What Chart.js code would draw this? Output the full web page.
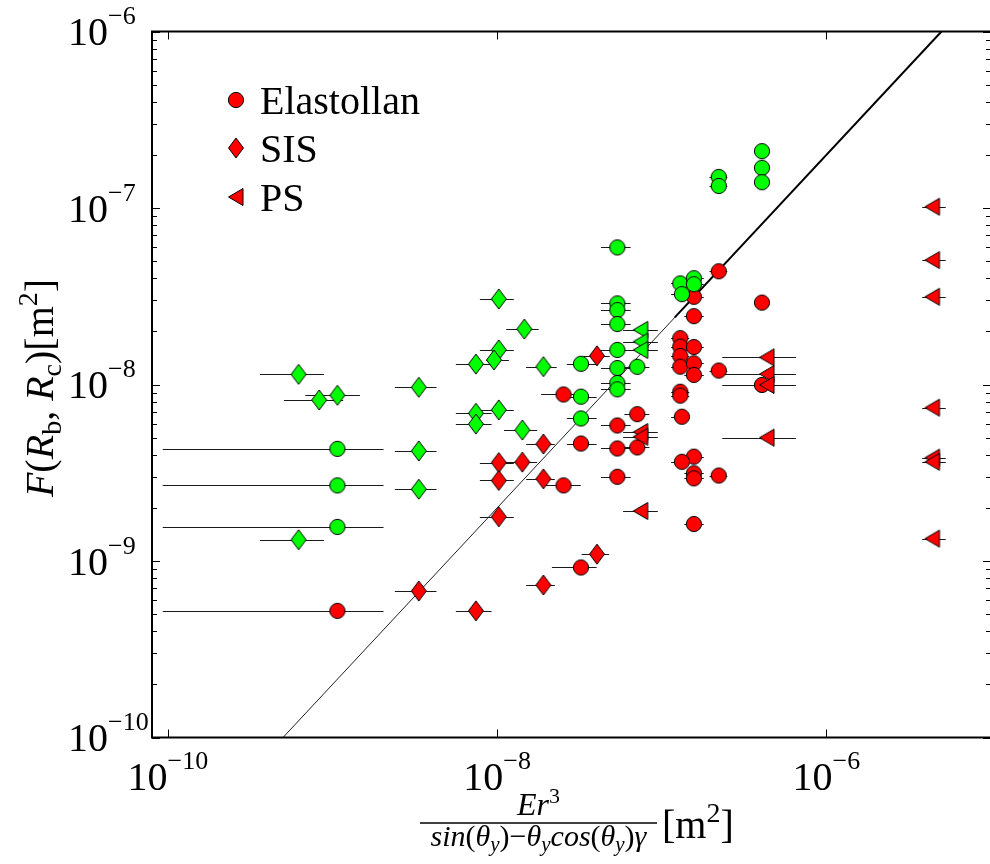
<!DOCTYPE html>
<html>
<head>
<meta charset="utf-8">
<script src="https://cdn.jsdelivr.net/npm/chart.js@4/dist/chart.umd.min.js"></script>
<style>
  html, body { margin: 0; padding: 0; background: #fff; overflow: hidden; }
  canvas { display: block; }
</style>
</head>
<body>
<canvas id="c" width="1000" height="864"></canvas>
<script>
// Each point: [x, y, xLow, xHigh]  (horizontal error bar from xLow to xHigh)
const elastollanRed = [
  [1.07e-9, 5.22e-10, 9.3e-11, 2.04e-9],
  [2.53e-8, 8.78e-9, 1.85e-8, 3.0e-8],
  [2.53e-8, 2.68e-9, 1.9e-8, 3.22e-8],
  [3.23e-8, 4.63e-9, 2.65e-8, 4.02e-8],
  [3.23e-8, 9.19e-10, 2.15e-8, 4.02e-8],
  [5.37e-8, 5.86e-9, 4.27e-8, 6.47e-8],
  [5.37e-8, 4.34e-9, 4.27e-8, 6.47e-8],
  [5.37e-8, 3.00e-9, 4.27e-8, 6.47e-8],
  [7.10e-8, 6.79e-9, 5.93e-8, 8.41e-8],
  [7.10e-8, 4.40e-9, 5.93e-8, 8.41e-8],
  [1.295e-7, 1.83e-8, 1.14e-7, 1.47e-7],
  [1.295e-7, 1.64e-8, 1.14e-7, 1.47e-7],
  [1.295e-7, 1.45e-8, 1.14e-7, 1.47e-7],
  [1.295e-7, 1.262e-8, 1.14e-7, 1.47e-7],
  [1.567e-7, 1.63e-8, 1.37e-7, 1.80e-7],
  [1.567e-7, 1.318e-8, 1.37e-7, 1.80e-7],
  [1.567e-7, 1.133e-8, 1.37e-7, 1.80e-7],
  [1.567e-7, 3.14e-8, 1.37e-7, 1.80e-7],
  [1.567e-7, 2.44e-8, 1.37e-7, 1.80e-7],
  [2.22e-7, 4.38e-8, 1.95e-7, 2.50e-7],
  [4.06e-7, 2.91e-8, 4.06e-7, 4.06e-7],
  [2.22e-7, 1.20e-8, 1.95e-7, 2.50e-7],
  [4.06e-7, 9.94e-9, 4.06e-7, 4.06e-7],
  [1.295e-7, 9.10e-9, 1.14e-7, 1.47e-7],
  [1.295e-7, 8.65e-9, 1.14e-7, 1.47e-7],
  [1.325e-7, 6.57e-9, 1.14e-7, 1.47e-7],
  [1.567e-7, 3.90e-9, 1.37e-7, 1.80e-7],
  [1.325e-7, 3.65e-9, 1.14e-7, 1.47e-7],
  [1.567e-7, 3.14e-9, 1.37e-7, 1.80e-7],
  [1.567e-7, 2.94e-9, 1.37e-7, 1.80e-7],
  [2.22e-7, 3.05e-9, 1.95e-7, 2.50e-7],
  [1.567e-7, 1.62e-9, 1.37e-7, 1.80e-7]
];

const elastollanGreen = [
  [1.07e-9, 4.32e-9, 9.3e-11, 2.04e-9],
  [1.07e-9, 2.68e-9, 9.3e-11, 2.04e-9],
  [1.07e-9, 1.56e-9, 9.3e-11, 2.04e-9],
  [5.37e-8, 5.98e-8, 4.27e-8, 6.47e-8],
  [5.37e-8, 2.88e-8, 4.27e-8, 6.47e-8],
  [5.37e-8, 2.64e-8, 4.27e-8, 6.47e-8],
  [5.37e-8, 2.20e-8, 4.27e-8, 6.47e-8],
  [5.37e-8, 1.57e-8, 4.27e-8, 6.47e-8],
  [5.37e-8, 1.24e-8, 4.27e-8, 6.47e-8],
  [5.37e-8, 1.02e-8, 4.27e-8, 6.47e-8],
  [5.37e-8, 9.39e-9, 4.27e-8, 6.47e-8],
  [3.23e-8, 1.31e-8, 2.65e-8, 4.02e-8],
  [3.23e-8, 8.53e-9, 2.65e-8, 4.02e-8],
  [3.23e-8, 6.42e-9, 2.65e-8, 4.02e-8],
  [7.10e-8, 1.26e-8, 5.93e-8, 8.41e-8],
  [1.295e-7, 3.74e-8, 1.14e-7, 1.47e-7],
  [1.325e-7, 3.25e-8, 1.14e-7, 1.47e-7],
  [1.567e-7, 4.00e-8, 1.37e-7, 1.80e-7],
  [1.567e-7, 3.70e-8, 1.37e-7, 1.80e-7],
  [2.22e-7, 1.50e-7, 1.95e-7, 2.50e-7],
  [2.22e-7, 1.333e-7, 1.95e-7, 2.50e-7],
  [4.06e-7, 2.10e-7, 4.06e-7, 4.06e-7],
  [4.06e-7, 1.69e-7, 4.06e-7, 4.06e-7],
  [4.06e-7, 1.40e-7, 4.06e-7, 4.06e-7]
];

const sisRed = [
  [3.34e-9, 6.76e-10, 2.39e-9, 4.28e-9],
  [7.43e-9, 5.22e-10, 5.61e-9, 9.25e-9],
  [1.023e-8, 1.78e-9, 7.85e-9, 1.262e-8],
  [1.023e-8, 3.61e-9, 7.85e-9, 1.262e-8],
  [1.023e-8, 2.86e-9, 7.85e-9, 1.262e-8],
  [1.422e-8, 3.63e-9, 1.10e-8, 1.75e-8],
  [1.909e-8, 4.60e-9, 1.50e-8, 2.24e-8],
  [1.909e-8, 2.92e-9, 1.50e-8, 2.24e-8],
  [1.909e-8, 7.31e-10, 1.50e-8, 2.24e-8],
  [4.04e-8, 1.455e-8, 3.34e-8, 4.83e-8],
  [4.04e-8, 1.093e-9, 3.26e-8, 4.79e-8]
];

const sisGreen = [
  [6.22e-10, 1.142e-8, 3.62e-10, 8.85e-10],
  [8.30e-10, 8.17e-9, 5.06e-10, 1.16e-9],
  [1.07e-9, 8.69e-9, 6.84e-10, 1.466e-9],
  [6.22e-10, 1.32e-9, 3.62e-10, 8.85e-10],
  [3.34e-9, 9.64e-9, 2.39e-9, 4.28e-9],
  [3.34e-9, 4.20e-9, 2.39e-9, 4.28e-9],
  [3.34e-9, 2.55e-9, 2.39e-9, 4.28e-9],
  [1.023e-8, 3.05e-8, 7.85e-9, 1.262e-8],
  [1.462e-8, 2.06e-8, 1.135e-8, 1.786e-8],
  [1.023e-8, 1.57e-8, 7.85e-9, 1.262e-8],
  [9.57e-9, 1.377e-8, 8.59e-9, 1.178e-8],
  [7.43e-9, 1.305e-8, 5.61e-9, 9.25e-9],
  [1.909e-8, 1.262e-8, 1.497e-8, 2.30e-8],
  [7.43e-9, 6.87e-9, 5.61e-9, 9.25e-9],
  [7.43e-9, 5.97e-9, 5.61e-9, 9.25e-9],
  [1.023e-8, 7.18e-9, 7.85e-9, 1.262e-8],
  [1.422e-8, 5.52e-9, 1.10e-8, 1.75e-8]
];

const psRed = [
  [7.45e-8, 5.38e-9, 5.82e-8, 9.46e-8],
  [7.45e-8, 5.06e-9, 5.82e-8, 9.46e-8],
  [7.45e-8, 1.92e-9, 5.82e-8, 9.46e-8],
  [4.36e-7, 1.425e-8, 2.33e-7, 6.52e-7],
  [4.36e-7, 1.146e-8, 2.33e-7, 6.52e-7],
  [4.36e-7, 9.94e-9, 2.33e-7, 6.52e-7],
  [4.36e-7, 5.00e-9, 2.33e-7, 6.52e-7],
  [4.41e-6, 1.017e-7, 3.82e-6, 5.31e-6],
  [4.41e-6, 5.07e-8, 3.82e-6, 5.31e-6],
  [4.41e-6, 3.14e-8, 3.82e-6, 5.31e-6],
  [4.41e-6, 7.39e-9, 3.82e-6, 5.31e-6],
  [4.41e-6, 3.85e-9, 3.82e-6, 5.31e-6],
  [4.41e-6, 3.65e-9, 3.82e-6, 5.31e-6],
  [4.41e-6, 1.34e-9, 3.82e-6, 5.31e-6]
];

const psGreen = [
  [7.45e-8, 2.04e-8, 5.82e-8, 9.46e-8],
  [7.45e-8, 1.75e-8, 5.82e-8, 9.46e-8],
  [7.45e-8, 1.57e-8, 5.82e-8, 9.46e-8]
];

// Reference line F = x / 5 (end points), and its heavier upper stretch
const fitLineX = [5e-10, 5e-6];
const fitLineY = [1e-10, 1e-6];
const fitHeavyX = [1.2e-7, 5e-6];
const fitHeavyY = [2.4e-8, 1e-6];

const xTickValues = [1e-10, 1e-8, 1e-6];
const xTickExponents = ['10', '8', '6'];
const yTickValues = [1e-6, 1e-7, 1e-8, 1e-9, 1e-10];
const yTickExponents = ['6', '7', '8', '9', '10'];
const legendLabels = ['Elastollan', 'SIS', 'PS'];

const RED = '#ff0000';
const GREEN = '#00ff00';
const SERIF = "'Liberation Serif'";

function makeMarker(shape, fill) {
  const c = document.createElement('canvas');
  const g = c.getContext('2d');
  if (shape === 'diamond') {
    c.width = 18; c.height = 24;
    g.beginPath();
    g.moveTo(9, 2); g.lineTo(16.5, 12); g.lineTo(9, 22); g.lineTo(1.5, 12);
  } else if (shape === 'triangle') {
    c.width = 18; c.height = 20;
    g.beginPath();
    g.moveTo(1.5, 10); g.lineTo(16, 1.5); g.lineTo(16, 18.5);
  } else {
    c.width = 18; c.height = 18;
    g.beginPath();
    g.arc(9, 9, 7.6, 0, Math.PI * 2);
  }
  g.closePath();
  g.fillStyle = fill; g.fill();
  g.lineWidth = 1; g.strokeStyle = '#000'; g.stroke();
  return c;
}

const markers = {
  circleRed: makeMarker('circle', RED),
  circleGreen: makeMarker('circle', GREEN),
  diamondRed: makeMarker('diamond', RED),
  diamondGreen: makeMarker('diamond', GREEN),
  triangleRed: makeMarker('triangle', RED),
  triangleGreen: makeMarker('triangle', GREEN)
};

function toPoints(rows) {
  return rows.map(r => ({ x: r[0], y: r[1], lo: r[2], hi: r[3] }));
}
function toLine(xs, ys) {
  return xs.map((x, i) => ({ x: x, y: ys[i] }));
}

function scatterSet(label, rows, marker, order) {
  return {
    label: label, data: toPoints(rows), errorBars: true,
    pointStyle: marker, pointRadius: 8, pointHoverRadius: 8, order: order
  };
}

function fontOf(size, italic) {
  return (italic ? 'italic ' : '') + size + 'px ' + SERIF;
}
// Draws a run of text pieces (with sub/superscripts) from one anchor
function drawRuns(ctx, runs, x, y, align) {
  let total = 0;
  runs.forEach(r => {
    ctx.font = fontOf(r.size, r.italic);
    r.w = ctx.measureText(r.text).width + (r.gap || 0);
    total += r.w;
  });
  let cx = align === 'center' ? x - total / 2 : align === 'right' ? x - total : x;
  runs.forEach(r => {
    ctx.font = fontOf(r.size, r.italic);
    ctx.fillText(r.text, cx, y + (r.dy || 0));
    cx += r.w;
  });
  return total;
}
function powerRuns(exp) {
  return [{ text: '10', size: 40 }, { text: '\u2212' + exp, size: 26, dy: -21 }];
}

const errorBarPlugin = {
  id: 'errorBars',
  beforeDatasetsDraw(chart) {
    const ctx = chart.ctx, xs = chart.scales.x, area = chart.chartArea;
    ctx.save();
    ctx.beginPath();
    ctx.rect(area.left, area.top, area.right - area.left, area.bottom - area.top);
    ctx.clip();
    ctx.strokeStyle = '#1a1a1a';
    ctx.lineWidth = 1;
    chart.data.datasets.forEach((ds, di) => {
      if (!ds.errorBars) return;
      const meta = chart.getDatasetMeta(di);
      ds.data.forEach((p, i) => {
        const y = Math.round(meta.data[i].y) + 0.5;
        const x0 = xs.getPixelForValue(p.lo), x1 = xs.getPixelForValue(p.hi);
        if (x1 - x0 < 1) return;
        ctx.beginPath();
        ctx.moveTo(x0, y); ctx.lineTo(x1, y);
        ctx.stroke();
      });
    });
    ctx.restore();
  }
};

const framePlugin = {
  id: 'frame',
  afterDraw(chart) {
    const ctx = chart.ctx, xs = chart.scales.x, ys = chart.scales.y, a = chart.chartArea;
    ctx.save();
    ctx.strokeStyle = '#000';
    ctx.fillStyle = '#000';
    // axes box
    ctx.lineWidth = 2;
    ctx.strokeRect(a.left, a.top, a.right - a.left, a.bottom - a.top);
    // y ticks (major each decade, minor 2..9)
    ctx.lineWidth = 1;
    for (let e = -10; e <= -6; e++) {
      for (let m = 1; m <= 9; m++) {
        const v = m * Math.pow(10, e);
        if (v > 1.0001e-6) continue;
        const y = Math.round(ys.getPixelForValue(v)) + 0.5;
        const len = m === 1 ? 8 : 5;
        ctx.beginPath();
        ctx.moveTo(a.left, y); ctx.lineTo(a.left + len, y);
        ctx.moveTo(a.right, y); ctx.lineTo(a.right - len, y);
        ctx.stroke();
      }
    }
    // x ticks (every second decade)
    xTickValues.forEach(v => {
      const x = Math.round(xs.getPixelForValue(v)) + 0.5;
      ctx.beginPath();
      ctx.moveTo(x, a.bottom); ctx.lineTo(x, a.bottom - 8);
      ctx.moveTo(x, a.top); ctx.lineTo(x, a.top + 8);
      ctx.stroke();
    });
    // tick labels
    ctx.textBaseline = 'alphabetic';
    yTickValues.forEach((v, i) => {
      const y = ys.getPixelForValue(v);
      drawRuns(ctx, powerRuns(yTickExponents[i]), 68, y + 13.5, 'left');
    });
    xTickValues.forEach((v, i) => {
      const x = xs.getPixelForValue(v);
      drawRuns(ctx, powerRuns(xTickExponents[i]), x, 790, 'center');
    });

    // y axis title
    ctx.save();
    ctx.translate(53, 388);
    ctx.rotate(-Math.PI / 2);
    drawRuns(ctx, [
      { text: 'F', size: 40, italic: true },
      { text: '(', size: 40 },
      { text: 'R', size: 40, italic: true },
      { text: 'b', size: 28, dy: 8 },
      { text: ', ', size: 40 },
      { text: 'R', size: 40, italic: true },
      { text: 'c', size: 28, dy: 8 },
      { text: ')', size: 40 },
      { text: '[m', size: 40 },
      { text: '2', size: 28, dy: -16 },
      { text: ']', size: 40 }
    ], 0, 0, 'center');
    ctx.restore();

    // x axis title: fraction plus unit
    const fx0 = 420, fx1 = 657, fc = (fx0 + fx1) / 2;
    drawRuns(ctx, [
      { text: 'E', size: 32, italic: true },
      { text: 'r', size: 32, italic: true },
      { text: '3', size: 22, dy: -12 }
    ], fc, 815, 'center');
    ctx.lineWidth = 1.5;
    ctx.beginPath(); ctx.moveTo(fx0, 823); ctx.lineTo(fx1, 823); ctx.stroke();
    drawRuns(ctx, [
      { text: 'sin', size: 30, italic: true },
      { text: '(', size: 30 },
      { text: '\u03b8', size: 30, italic: true },
      { text: 'y', size: 21, italic: true, dy: 5 },
      { text: ')\u2212', size: 30 },
      { text: '\u03b8', size: 30, italic: true },
      { text: 'y', size: 21, italic: true, dy: 5 },
      { text: 'cos', size: 30, italic: true },
      { text: '(', size: 30 },
      { text: '\u03b8', size: 30, italic: true },
      { text: 'y', size: 21, italic: true, dy: 5 },
      { text: ')', size: 30 },
      { text: '\u03b3', size: 30, italic: true }
    ], fc, 846, 'center');
    drawRuns(ctx, [
      { text: '[m', size: 40 },
      { text: '2', size: 28, dy: -16 },
      { text: ']', size: 40 }
    ], 662, 838, 'left');

    // legend
    const legendMarkers = [markers.circleRed, markers.diamondRed, markers.triangleRed];
    const rowY = [100, 148, 197];
    legendLabels.forEach((t, i) => {
      const m = legendMarkers[i];
      ctx.drawImage(m, 236 - m.width / 2, rowY[i] - m.height / 2);
      ctx.font = fontOf(40, false);
      ctx.fillText(t, 260, rowY[i] + 13.5);
    });
    ctx.restore();
  }
};

new Chart(document.getElementById('c').getContext('2d'), {
  type: 'scatter',
  data: {
    datasets: [
      { type: 'line', label: 'fit', data: toLine(fitLineX, fitLineY), borderColor: '#222',
        borderWidth: 1, pointRadius: 0, fill: false, order: 20 },
      { type: 'line', label: 'fit upper', data: toLine(fitHeavyX, fitHeavyY), borderColor: '#000',
        borderWidth: 2, pointRadius: 0, fill: false, order: 19 },
      scatterSet('Elastollan', elastollanRed, markers.circleRed, 6),
      scatterSet('SIS', sisRed, markers.diamondRed, 5),
      scatterSet('PS', psRed, markers.triangleRed, 4),
      scatterSet('Elastollan', elastollanGreen, markers.circleGreen, 3),
      scatterSet('SIS', sisGreen, markers.diamondGreen, 2),
      scatterSet('PS', psGreen, markers.triangleGreen, 1)
    ]
  },
  options: {
    responsive: false,
    animation: false,
    devicePixelRatio: 1,
    layout: { padding: { left: 0, right: 2.5, top: 31.5, bottom: 0 } },
    scales: {
      x: {
        type: 'logarithmic', min: 8e-11, max: 1e-5,
        grid: { display: false }, border: { display: false }, ticks: { display: false },
        afterFit(s) { s.height = 126.5; }
      },
      y: {
        type: 'logarithmic', min: 1e-10, max: 1e-6,
        grid: { display: false }, border: { display: false }, ticks: { display: false },
        afterFit(s) { s.width = 152; }
      }
    },
    plugins: { legend: { display: false }, tooltip: { enabled: false } }
  }
  ,
  plugins: [errorBarPlugin, framePlugin]
});
</script>
</body>
</html>
